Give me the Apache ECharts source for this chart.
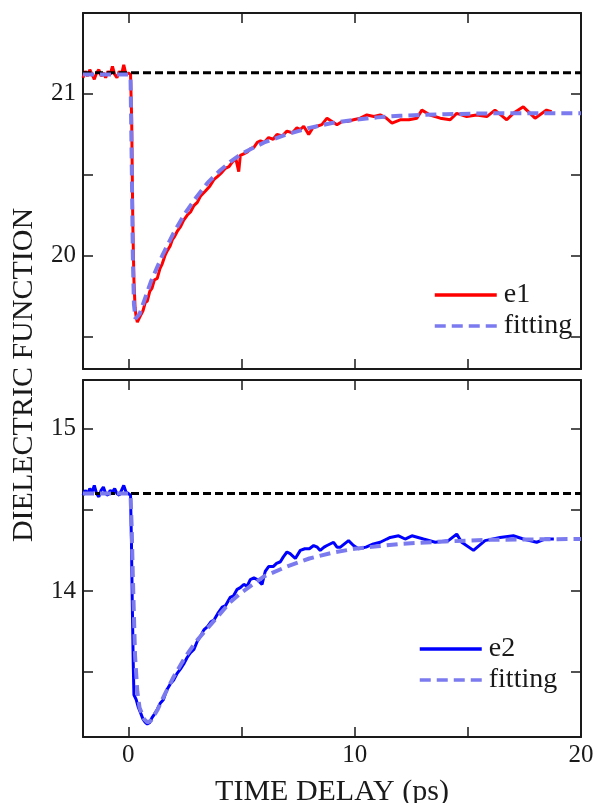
<!DOCTYPE html>
<html>
<head>
    <meta charset="utf-8">
    <title>Dielectric function</title>
    <script src="https://cdn.jsdelivr.net/npm/echarts@6/dist/echarts.min.js"></script>
    <style>
        body { margin: 0; background: #fff; }
    </style>
</head>
<body>
    <div id="main" style="width:595px; height:803px;"></div>
    <script>
        // 数据：时间 (ps) 与介电函数值
        var e1Time = [-2.0, -1.9, -1.8, -1.7, -1.6, -1.5, -1.4, -1.3, -1.2, -1.1,
            -1.0, -0.9, -0.8, -0.7, -0.6, -0.5, -0.4, -0.3, -0.2, -0.1,
            0.0, 0.1, 0.15, 0.2, 0.25, 0.3, 0.35, 0.4, 0.45, 0.54,
            0.65, 0.75, 0.84, 0.95, 1.05, 1.15, 1.28, 1.4, 1.5, 1.62,
            1.72, 1.85, 1.95, 2.05, 2.16, 2.31, 2.45, 2.6, 2.75, 2.9,
            3.05, 3.2, 3.41, 3.6, 3.78, 3.95, 4.1, 4.29, 4.45, 4.6,
            4.75, 4.88, 4.95, 5.1, 5.25, 5.39, 5.55, 5.7, 5.84, 6.0,
            6.2, 6.4, 6.57, 6.8, 7.01, 7.25, 7.45, 7.6, 7.75, 7.97,
            8.15, 8.34, 8.55, 8.78, 9.0, 9.22, 9.45, 9.7, 9.95, 10.25,
            10.54, 10.85, 11.13, 11.4, 11.65, 12.01, 12.4, 12.75, 12.97, 13.33,
            13.78, 14.22, 14.51, 14.95, 15.39, 15.84, 16.2, 16.72, 17.01, 17.45,
            17.97, 18.48, 18.7]
        var e1Value = [21.10, 21.14, 21.11, 21.15, 21.12, 21.09, 21.13, 21.15, 21.11, 21.13,
            21.10, 21.14, 21.12, 21.17, 21.12, 21.10, 21.14, 21.12, 21.18, 21.12,
            21.13, 21.12, 20.85, 20.20, 19.85, 19.68, 19.62, 19.59, 19.60, 19.63,
            19.66, 19.71, 19.72, 19.78, 19.80, 19.85, 19.86, 19.92, 19.95, 20.00,
            20.03, 20.06, 20.10, 20.12, 20.15, 20.18, 20.22, 20.25, 20.27, 20.31,
            20.33, 20.37, 20.40, 20.43, 20.47, 20.49, 20.51, 20.54, 20.55, 20.58,
            20.60, 20.52, 20.62, 20.63, 20.64, 20.66, 20.67, 20.70, 20.71, 20.70,
            20.73, 20.72, 20.75, 20.74, 20.77, 20.76, 20.79, 20.78, 20.80, 20.75,
            20.79, 20.80, 20.81, 20.85, 20.83, 20.81, 20.83, 20.83, 20.84, 20.85,
            20.87, 20.86, 20.87, 20.85, 20.82, 20.84, 20.84, 20.85, 20.90, 20.87,
            20.85, 20.84, 20.88, 20.86, 20.87, 20.86, 20.90, 20.84, 20.88, 20.92,
            20.85, 20.90, 20.89]

        var fit1Time = [-2, 0.0, 0.1, 0.15, 0.2, 0.25, 0.32, 0.4, 0.5, 0.6,
            0.8, 1.0, 1.25, 1.5, 1.75, 2.0, 2.5, 3.0, 3.5, 4.0,
            4.5, 5.0, 6.0, 7.0, 8.0, 9.0, 10, 11, 12, 14,
            16, 18, 20]
        var fit1Value = [21.12, 21.12, 21.10, 20.60, 20.00, 19.70, 19.61, 19.61, 19.64, 19.68,
            19.76, 19.84, 19.92, 20.00, 20.07, 20.14, 20.26, 20.36, 20.45, 20.52,
            20.58, 20.63, 20.70, 20.75, 20.79, 20.82, 20.84, 20.855, 20.865, 20.875,
            20.88, 20.88, 20.88]

        var e2Time = [-2.0, -1.9, -1.8, -1.7, -1.6, -1.5, -1.4, -1.3, -1.2, -1.1,
            -1.0, -0.9, -0.8, -0.7, -0.6, -0.5, -0.4, -0.3, -0.2, -0.1,
            0.0, 0.1, 0.14, 0.18, 0.22, 0.25, 0.35, 0.45, 0.54, 0.65,
            0.75, 0.84, 0.95, 1.05, 1.15, 1.28, 1.42, 1.55, 1.7, 1.87,
            2.0, 2.15, 2.31, 2.45, 2.6, 2.75, 2.9, 3.05, 3.19, 3.34,
            3.5, 3.65, 3.78, 3.95, 4.15, 4.3, 4.5, 4.65, 4.81, 4.95,
            5.1, 5.25, 5.39, 5.55, 5.7, 5.91, 6.05, 6.2, 6.4, 6.55,
            6.72, 6.85, 7.01, 7.15, 7.38, 7.6, 7.8, 8.0, 8.19, 8.35,
            8.48, 8.65, 8.78, 9.07, 9.22, 9.37, 9.55, 9.73, 9.95, 10.17,
            10.5, 10.83, 11.13, 11.42, 11.57, 11.94, 12.23, 12.53, 13.04, 13.56,
            14.14, 14.51, 14.73, 15.25, 15.76, 16.42, 17.01, 17.45, 18.04, 18.41,
            18.8]
        var e2Value = [14.59, 14.62, 14.60, 14.63, 14.61, 14.65, 14.60, 14.58, 14.62, 14.64,
            14.60, 14.59, 14.62, 14.61, 14.63, 14.60, 14.59, 14.62, 14.65, 14.61,
            14.60, 14.59, 14.30, 13.90, 13.55, 13.36, 13.33, 13.28, 13.25, 13.21,
            13.19, 13.18, 13.19, 13.22, 13.24, 13.27, 13.31, 13.33, 13.39, 13.43,
            13.45, 13.49, 13.52, 13.55, 13.59, 13.62, 13.64, 13.69, 13.72, 13.76,
            13.78, 13.81, 13.82, 13.86, 13.90, 13.91, 13.96, 13.97, 14.01, 14.02,
            14.04, 14.03, 14.07, 14.08, 14.07, 14.04, 14.12, 14.15, 14.15, 14.17,
            14.18, 14.21, 14.24, 14.23, 14.20, 14.25, 14.26, 14.26, 14.28, 14.27,
            14.25, 14.27, 14.28, 14.30, 14.27, 14.27, 14.29, 14.31, 14.28, 14.26,
            14.27, 14.29, 14.30, 14.32, 14.33, 14.34, 14.32, 14.34, 14.32, 14.30,
            14.31, 14.35, 14.30, 14.25, 14.31, 14.33, 14.34, 14.32, 14.30, 14.32,
            14.32]

        var fit2Time = [-2, 0, 0.1, 0.15, 0.2, 0.3, 0.4, 0.5, 0.7, 0.85,
            1.0, 1.3, 1.6, 2.0, 2.5, 3.0, 3.5, 4.0, 4.5, 5.0,
            6.0, 7.0, 8.0, 9.0, 10, 11, 12, 14, 16, 18,
            20]
        var fit2Value = [14.60, 14.60, 14.59, 14.40, 14.10, 13.60, 13.38, 13.28, 13.21, 13.19,
            13.20, 13.27, 13.36, 13.47, 13.59, 13.69, 13.77, 13.85, 13.93, 13.99,
            14.09, 14.15, 14.20, 14.235, 14.26, 14.275, 14.29, 14.305, 14.315, 14.318,
            14.32]

        // 水平参考线
        var baseTime = [-2, 20]
        var base1 = 21.13
        var base2 = 14.60

        // 刻度
        var xTicks = [0, 5, 10, 15]
        var xLabels = [0, 10, 20]
        var y1Ticks = [19.5, 20, 20.5, 21]
        var y1Labels = [20, 21]
        var y2Ticks = [13.5, 14, 14.5, 15]
        var y2Labels = [14, 15]

        var font = 'Liberation Serif'
        var ink = '#1a1a1a'
        var fitColor = '#7b7bef'

        var pairs = function(xs, ys) {
            var out = []
            for (var i = 0; i < xs.length; i++) {
                out.push([xs[i], ys[i]])
            }
            return out
        }

        var xAxisOf = function(grid, pos, labels) {
            return {
                type: 'value',
                gridIndex: grid,
                position: pos,
                min: -2,
                max: 20,
                axisLine: {onZero: false, lineStyle: {color: ink, width: 2}},
                axisTick: {inside: true, length: 10, customValues: xTicks,
                    lineStyle: {color: ink, width: 1.5}},
                axisLabel: labels ? {show: true, customValues: labels, margin: 6,
                    fontSize: 25, fontFamily: font, color: ink} : {show: false},
                splitLine: {show: false}
            }
        }

        var yAxisOf = function(grid, pos, lo, hi, ticks, labels) {
            return {
                type: 'value',
                gridIndex: grid,
                position: pos,
                min: lo,
                max: hi,
                axisLine: {show: true, onZero: false, lineStyle: {color: ink, width: 2}},
                axisTick: {show: true, inside: true, length: 10, customValues: ticks,
                    lineStyle: {color: ink, width: 1.5}},
                axisLabel: labels ? {show: true, customValues: labels, margin: 7,
                    fontSize: 25, fontFamily: font, color: ink} : {show: false},
                splitLine: {show: false}
            }
        }

        var bottomX = xAxisOf(1, 'bottom', xLabels)
        bottomX.name = 'TIME DELAY (ps)'
        bottomX.nameLocation = 'middle'
        bottomX.nameGap = 40
        bottomX.nameTextStyle = {fontSize: 30, fontFamily: font, color: ink}

        var lineSeries = function(name, xi, data, color, width, dash, z) {
            return {
                name: name,
                type: 'line',
                xAxisIndex: xi,
                yAxisIndex: xi,
                data: data,
                symbol: 'none',
                showSymbol: false,
                z: z,
                lineStyle: {color: color, width: width, type: dash},
                itemStyle: {color: color}
            }
        }

        var legendOf = function(names, left, top) {
            return {
                data: names,
                orient: 'vertical',
                left: left,
                top: top,
                itemWidth: 62,
                itemHeight: 14,
                itemGap: 3,
                selectedMode: false,
                itemStyle: {opacity: 0, borderWidth: 0},
                lineStyle: {width: 3.5},
                textStyle: {fontSize: 28, fontFamily: font, color: ink, padding: [0, 0, 0, 2]}
            }
        }

        var element = document.querySelector('#main')
        var myChart = echarts.init(element)

        var option = {
            animation: false,
            backgroundColor: '#fff',
            textStyle: {fontFamily: font},
            grid: [
                {left: 83, top: 13, width: 498, height: 356, outerBoundsMode: 'none'},
                {left: 83, top: 380, width: 498, height: 357, outerBoundsMode: 'none'}
            ],
            legend: [
                legendOf(['e1', 'fitting'], 428, 276),
                legendOf(['e2', 'fitting'], 413, 630)
            ],
            xAxis: [
                xAxisOf(0, 'bottom', null),
                xAxisOf(0, 'top', null),
                bottomX,
                xAxisOf(1, 'top', null)
            ],
            yAxis: [
                yAxisOf(0, 'left', 19.3, 21.5, y1Ticks, y1Labels),
                yAxisOf(0, 'right', 19.3, 21.5, y1Ticks, null),
                yAxisOf(1, 'left', 13.1, 15.3, y2Ticks, y2Labels),
                yAxisOf(1, 'right', 13.1, 15.3, y2Ticks, null)
            ],
            graphic: [{
                type: 'text',
                x: 24,
                y: 375,
                rotation: Math.PI / 2,
                style: {
                    text: 'DIELECTRIC FUNCTION',
                    font: '30px "Liberation Serif"',
                    fill: ink,
                    align: 'center',
                    verticalAlign: 'middle'
                }
            }],
            series: [
                lineSeries('e1', 0, pairs(e1Time, e1Value), '#ff0000', 3, 'solid', 2),
                lineSeries('base1', 0, pairs(baseTime, [base1, base1]), '#000', 3, [8, 4], 3),
                lineSeries('fitting', 0, pairs(fit1Time, fit1Value), fitColor, 4, [11, 6], 4),
                lineSeries('e2', 2, pairs(e2Time, e2Value), '#0000ff', 3, 'solid', 2),
                lineSeries('base2', 2, pairs(baseTime, [base2, base2]), '#000', 3, [8, 4], 3),
                lineSeries('fitting', 2, pairs(fit2Time, fit2Value), fitColor, 4, [11, 6], 4)
            ]
        }

        myChart.setOption(option)
    </script>
</body>
</html>
